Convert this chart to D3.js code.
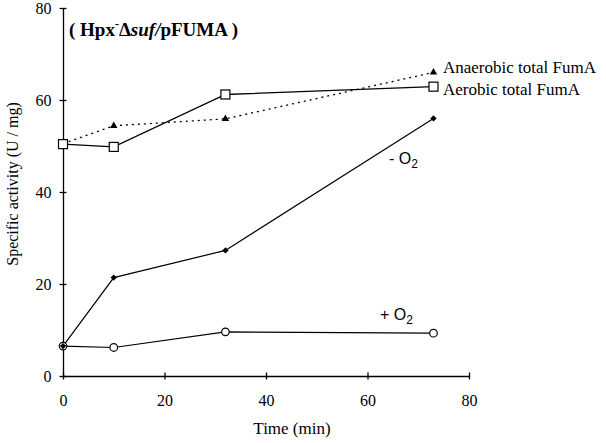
<!DOCTYPE html>
<html><head><meta charset="utf-8">
<script src="https://cdn.jsdelivr.net/npm/d3@7"></script>
<style>body{margin:0;background:#fff}svg{display:block}</style>
</head><body>
<script>
const times = [0, 10, 32, 73];
const minusO2 = [6.5, 21.4, 27.3, 56.0];
const plusO2 = [6.5, 6.2, 9.6, 9.3];
const aerobicTotal = [50.4, 49.8, 61.2, 62.9];
const anaerobicTotal = [50.5, 54.4, 55.9, 66.0];
const xTicks = [0, 20, 40, 60, 80];
const yTicks = [0, 20, 40, 60, 80];

const W = 606, H = 443;
const svg = d3.select("body").append("svg").attr("width", W).attr("height", H);
const x = d3.scaleLinear().domain([0, 80]).range([63, 469]);
const y = d3.scaleLinear().domain([0, 80]).range([376, 8]);
const sans = "'Liberation Sans', Arial, sans-serif";
const serif = "'Liberation Serif', 'Times New Roman', serif";

// axes
const xAxis = svg.append("g").attr("transform", `translate(0,${y(0)})`)
  .call(d3.axisBottom(x).tickValues(xTicks).tickSize(3.5).tickSizeOuter(0).tickPadding(15));
xAxis.selectAll(".tick line").attr("y1", -3.5);
const yAxis = svg.append("g").attr("transform", `translate(${x(0)},0)`)
  .call(d3.axisLeft(y).tickValues(yTicks).tickSize(3.5).tickSizeOuter(0).tickPadding(8));
yAxis.selectAll(".tick line").attr("x1", 3.5);
[xAxis, yAxis].forEach(a => {
  a.select(".domain").attr("stroke", "#000").attr("stroke-width", 1.3);
  a.selectAll(".tick line").attr("stroke", "#000").attr("stroke-width", 1.3);
  a.selectAll("text").attr("font-family", serif).attr("font-size", 16).attr("fill", "#000");
});

const mk = arr => times.map((t, i) => [t, arr[i]]);
const line = d3.line().x(d => x(d[0])).y(d => y(d[1]));

svg.append("path").attr("d", line(mk(anaerobicTotal))).attr("fill", "none")
  .attr("stroke", "#000").attr("stroke-width", 1.3).attr("stroke-dasharray", "2,4");
svg.append("path").attr("d", line(mk(aerobicTotal))).attr("fill", "none")
  .attr("stroke", "#000").attr("stroke-width", 1.3);
svg.append("path").attr("d", line(mk(minusO2))).attr("fill", "none")
  .attr("stroke", "#000").attr("stroke-width", 1.2);
svg.append("path").attr("d", line(mk(plusO2))).attr("fill", "none")
  .attr("stroke", "#000").attr("stroke-width", 1.2);

// markers
svg.append("g").selectAll("path").data(mk(anaerobicTotal)).join("path")
  .attr("d", d3.symbol(d3.symbolTriangle, 24)())
  .attr("transform", d => `translate(${x(d[0])},${y(d[1])})`).attr("fill", "#000");
svg.append("g").selectAll("rect").data(mk(aerobicTotal)).join("rect")
  .attr("x", d => x(d[0]) - 4.5).attr("y", d => y(d[1]) - 4.5).attr("width", 9).attr("height", 9)
  .attr("fill", "#fff").attr("stroke", "#000").attr("stroke-width", 1.2);
svg.append("g").selectAll("circle").data(mk(plusO2)).join("circle")
  .attr("cx", d => x(d[0])).attr("cy", d => y(d[1])).attr("r", 3.8)
  .attr("fill", "#fff").attr("stroke", "#000").attr("stroke-width", 1.2);
svg.append("g").selectAll("path").data(mk(minusO2)).join("path")
  .attr("d", d3.symbol(d3.symbolSquare, 20)())
  .attr("transform", d => `translate(${x(d[0])},${y(d[1])}) rotate(45)`).attr("fill", "#000");

// labels
svg.append("text").attr("x", 443).attr("y", 73).attr("font-family", serif).attr("font-size", 17)
  .text("Anaerobic total FumA");
svg.append("text").attr("x", 443).attr("y", 95).attr("font-family", serif).attr("font-size", 17)
  .text("Aerobic total FumA");

const o1 = svg.append("text").attr("x", 389).attr("y", 164).attr("font-family", sans).attr("font-size", 16);
o1.append("tspan").text("- O");
o1.append("tspan").attr("font-size", 12).attr("dy", 4).text("2");
const o2 = svg.append("text").attr("x", 380).attr("y", 320).attr("font-family", sans).attr("font-size", 16);
o2.append("tspan").text("+ O");
o2.append("tspan").attr("font-size", 12).attr("dy", 4).text("2");

const t = svg.append("text").attr("x", 69).attr("y", 36).attr("font-family", serif)
  .attr("font-size", 19).attr("font-weight", "bold");
t.append("tspan").text("( Hpx");
t.append("tspan").attr("font-size", 12).attr("dy", -8).text("-");
t.append("tspan").attr("dy", 8).text("Δ");
t.append("tspan").attr("font-style", "italic").text("suf/");
t.append("tspan").text("pFUMA )");

svg.append("text").attr("x", 292).attr("y", 434).attr("text-anchor", "middle")
  .attr("font-family", serif).attr("font-size", 17).text("Time (min)");
svg.append("text").attr("transform", "translate(18,184) rotate(-90)").attr("text-anchor", "middle")
  .attr("font-family", serif).attr("font-size", 16).text("Specific activity (U / mg)");
</script>
</body></html>
